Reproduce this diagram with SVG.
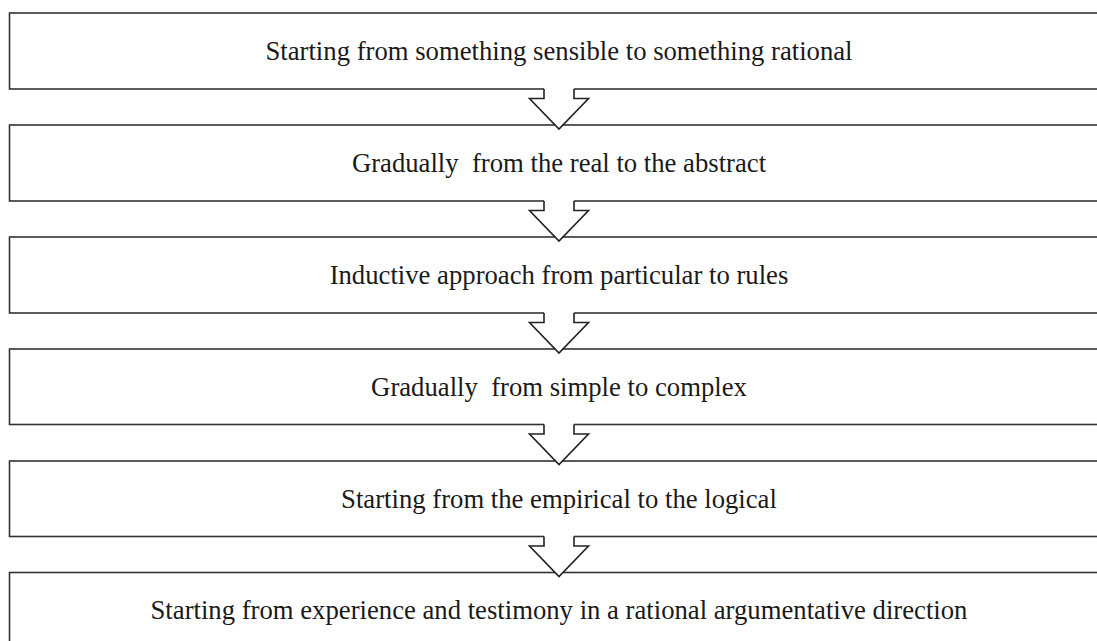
<svg xmlns="http://www.w3.org/2000/svg" xmlns:xlink="http://www.w3.org/1999/xlink" width="1097" height="641" viewBox="0 0 1097 641">
  <style>
    .box { fill: #ffffff; stroke: #333333; stroke-width: 1.6; }
    .label { font-family: "Liberation Serif", "Times New Roman", serif; font-size: 26.7px; fill: #1a1a1a; text-anchor: middle; white-space: pre; }
    .arrow-fill { fill: #ffffff; stroke: none; }
    .arrow-line { fill: none; stroke: #222222; stroke-width: 1.6; stroke-linejoin: miter; }
  </style>
  <defs>
    <!-- block arrow, origin at the bottom edge of the upper box -->
    <g id="down-arrow">
      <path class="arrow-fill" d="M544,-2 L544,9.5 L529.5,9.5 L559,40 L588.5,9.5 L574,9.5 L574,-2 Z"/>
      <path class="arrow-line" d="M544,0 L544,9.5 L529.5,9.5 L559,40 L588.5,9.5 L574,9.5 L574,0"/>
    </g>
  </defs>

  <rect width="1097" height="641" fill="#ffffff"/>

  <g id="step1">
    <rect class="box" x="9.5" y="13" width="1100" height="76"/>
    <text class="label" x="559" y="59.5">Starting from something sensible to something rational</text>
  </g>
  <g id="step2">
    <rect class="box" x="9.5" y="125" width="1100" height="76"/>
    <text class="label" x="559" y="171.5">Gradually  from the real to the abstract</text>
  </g>
  <g id="step3">
    <rect class="box" x="9.5" y="237" width="1100" height="76"/>
    <text class="label" x="559" y="283.5">Inductive approach from particular to rules</text>
  </g>
  <g id="step4">
    <rect class="box" x="9.5" y="349" width="1100" height="75.5"/>
    <text class="label" x="559" y="395.5">Gradually  from simple to complex</text>
  </g>
  <g id="step5">
    <rect class="box" x="9.5" y="461" width="1100" height="75.5"/>
    <text class="label" x="559" y="507.5">Starting from the empirical to the logical</text>
  </g>
  <g id="step6">
    <rect class="box" x="9.5" y="572.5" width="1100" height="76"/>
    <text class="label" x="559" y="619">Starting from experience and testimony in a rational argumentative direction</text>
  </g>

  <g id="connectors">
    <use xlink:href="#down-arrow" transform="translate(0,89)"/>
    <use xlink:href="#down-arrow" transform="translate(0,201)"/>
    <use xlink:href="#down-arrow" transform="translate(0,313)"/>
    <use xlink:href="#down-arrow" transform="translate(0,424.5)"/>
    <use xlink:href="#down-arrow" transform="translate(0,536.5)"/>
  </g>
</svg>
